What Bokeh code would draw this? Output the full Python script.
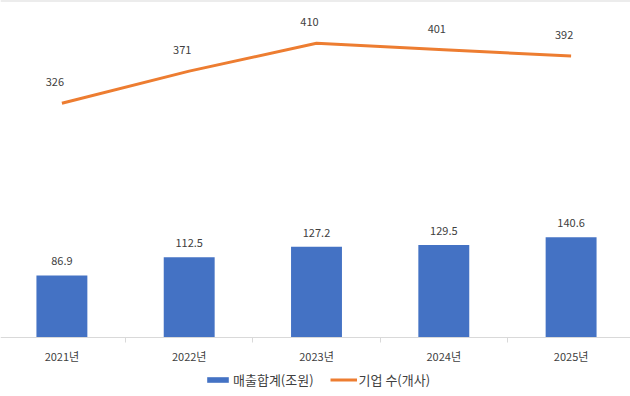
from bokeh.plotting import figure
from bokeh.models import (Range1d, LinearAxis, FixedTicker, Legend, LegendItem,
                          ColumnDataSource, Span)
from bokeh.core.properties import value
from bokeh.embed import file_html
from bokeh.resources import INLINE

years = ["2021년", "2022년", "2023년", "2024년", "2025년"]
revenue = [86.9, 112.5, 127.2, 129.5, 140.6]
companies = [326, 371, 410, 401, 392]

FONT = "Noto Sans CJK KR"
TXT = "#404040"

xs = list(range(len(years)))
src = ColumnDataSource(dict(
    x=xs, rev=revenue, cnt=companies,
    rev_lab=[f"{v:.1f}" for v in revenue],
    cnt_lab=[str(v) for v in companies],
))

Y_END = 472.0
p = figure(frame_width=630, frame_height=396, output_backend="svg", toolbar_location=None,
           x_range=Range1d(-0.4823, 4.4666), y_range=Range1d(-82.6, Y_END),
           x_axis_type=None, y_axis_type=None,
           min_border=0, min_border_left=0, min_border_right=0,
           min_border_top=0, min_border_bottom=0)
p.outline_line_color = None
p.xgrid.visible = False
p.ygrid.visible = False
p.extra_y_ranges = {"cnt": Range1d(-84.7, 469.9)}

p.add_layout(Span(location=Y_END, dimension="width", line_color="#D9D9D9", line_width=2))

bars = p.vbar(x="x", top="rev", width=0.4, source=src,
              fill_color="#4472C4", line_color=None)
line = p.line(x="x", y="cnt", source=src, y_range_name="cnt",
              line_color="#ED7D31", line_width=3)

p.text(x="x", y="rev", text="rev_lab", source=src,
       text_align="center", text_baseline="middle", y_offset=-14,
       text_font=value(FONT), text_font_size="11px", text_color=TXT)
p.text(x="x", y="cnt", text="cnt_lab", source=src, y_range_name="cnt",
       text_align="center", text_baseline="middle", y_offset=-21, x_offset=-7,
       text_font=value(FONT), text_font_size="11px", text_color=TXT)

bounds = [i - 0.5 for i in xs] + [xs[-1] + 0.5]
ax = LinearAxis(ticker=FixedTicker(ticks=xs, minor_ticks=bounds),
                major_label_overrides={i: lab for i, lab in zip(xs, years)},
                fixed_location=0)
ax.axis_line_color = "#D9D9D9"
ax.axis_line_width = 1
ax.major_tick_line_color = None
ax.major_tick_out = 0
ax.major_tick_in = 0
ax.minor_tick_line_color = "#D9D9D9"
ax.minor_tick_out = 5
ax.minor_tick_in = 0
ax.major_label_standoff = 5
ax.major_label_text_font = FONT
ax.major_label_text_font_size = "11px"
ax.major_label_text_color = TXT
p.add_layout(ax, "below")

legend = Legend(items=[LegendItem(label="매출합계(조원)", renderers=[bars]),
                       LegendItem(label="기업 수(개사)", renderers=[line])],
                orientation="horizontal", location=(204, 7),
                border_line_color=None, background_fill_alpha=0,
                glyph_width=27, glyph_height=7, label_standoff=2, spacing=16,
                padding=0, margin=0, label_height=16,
                label_text_font=FONT, label_text_font_size="13px",
                label_text_color=TXT)
p.add_layout(legend, "center")

open("out.html", "w").write(file_html(p, INLINE))
